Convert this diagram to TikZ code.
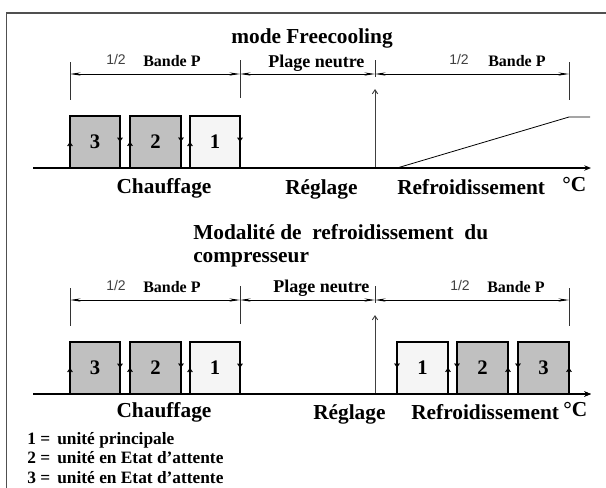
\documentclass[tikz,border=0pt]{standalone}
\usepackage{fontspec}
\setmainfont{Liberation Serif}
\newfontfamily\halffont{Liberation Sans}
\usetikzlibrary{decorations.markings}
\usetikzlibrary{arrows.meta}

\definecolor{unitgray}{RGB}{192,192,192}
\definecolor{unitlight}{RGB}{245,245,245}
\definecolor{framegray}{RGB}{80,80,80}

\begin{document}
\begin{tikzpicture}[x=0.75pt, y=-0.75pt,
		dimline/.style={line width=.6pt, {Stealth[length=8pt,width=2.4pt]}-{Stealth[length=8pt,width=2.4pt]}},
		dimtick/.style={line width=.7pt, black!80},
		tempaxis/.style={line width=1.3pt, -{Stealth[length=5pt,width=4pt]}},
		unitbox/.style={line width=.8pt, decoration={
				markings,
				mark=at position 0.17 with {\arrow{Straight Barb[length=2.5pt,width=3.5pt]}},
				mark=at position 0.83 with {\arrow{Straight Barb[length=2.5pt,width=3.5pt]}}},
			postaction={decorate}},
		biglbl/.style={font=\bfseries\fontsize{16}{18}\selectfont, inner sep=0pt},
		numlbl/.style={font=\bfseries\fontsize{15.5}{17}\selectfont, inner sep=0pt},
		bandlbl/.style={font=\bfseries\fontsize{12}{14}\selectfont, inner sep=0pt},
		halflbl/.style={font=\halffont\fontsize{10.5}{12}\selectfont, text=black!75, inner sep=0pt},
		legendlbl/.style={font=\bfseries\fontsize{13}{15}\selectfont, inner sep=0pt, anchor=base west}
	]
	\useasboundingbox (0,0) rectangle (606,487);
	% cadre
	\draw[framegray, line width=.8pt] (6.5,495) -- (6.5,13) -- (615,13);

	% les deux diagrammes
	\foreach \dy/\tag in {0/t, 226/b} {
		\node[shape=coordinate] (\tag dA) at (70,74+\dy) {};
		\node[shape=coordinate] (\tag dB) at (240,74+\dy) {};
		\node[shape=coordinate] (\tag dC) at (375,74+\dy) {};
		\node[shape=coordinate] (\tag dD) at (569,74+\dy) {};
		\draw[dimline] (\tag dA) -- (\tag dB);
		\draw[dimline] (\tag dB) -- (\tag dC);
		\draw[dimline] (\tag dC) -- (\tag dD);
		\draw[dimtick] (70,62+\dy) -- (70,100+\dy);
		\draw[dimtick] (240,60+\dy) -- (240,98+\dy);
		\draw[dimtick] (375,60+\dy) -- (375,77+\dy);
		\draw[dimtick] (569,62+\dy) -- (569,100+\dy);
		\node[shape=coordinate] (\tag ax0) at (33,168+\dy) {};
		\node[shape=coordinate] (\tag ax1) at (591,168+\dy) {};
		\node[shape=coordinate] (\tag set) at (375,168+\dy) {};
		\node[shape=coordinate] (\tag setup) at (375,89+\dy) {};
		\draw[black!75, line width=.7pt, -{Straight Barb[length=3pt,width=4pt]}] (\tag set) -- (\tag setup);
		\foreach \xl/\xr/\num/\col in {70/120/3/unitgray, 130/181/2/unitgray, 190/240/1/unitlight} {
			\filldraw[unitbox, fill=\col] (\xl,168+\dy) -- (\xl,116+\dy) -- (\xr,116+\dy) -- (\xr,168+\dy);
			\node[numlbl] (\tag h\num) at ({(\xl+\xr)/2},142+\dy) {\num};
		}
		\draw[tempaxis] (\tag ax0) -- (\tag ax1);
	}

	% rampe freecooling
	\node[shape=coordinate] (r0) at (397,168) {};
	\node[shape=coordinate] (r1) at (569,117) {};
	\node[shape=coordinate] (r2) at (590,117) {};
	\draw[line width=.6pt] (r0) -- (r1) -- (r2);

	% refroidissement compresseur
	\foreach \xl/\xr/\num/\col in {397/448/1/unitlight, 457/508/2/unitgray, 518/569/3/unitgray} {
		\filldraw[unitbox, fill=\col] (\xr,394) -- (\xr,342) -- (\xl,342) -- (\xl,394);
		\node[numlbl] (c\num) at ({(\xl+\xr)/2},368) {\num};
	}
	\draw[tempaxis] (bax0) -- (bax1);

	% textes haut
	\node[biglbl, anchor=base] (title1) at (312,43) {mode Freecooling};
	\node[halflbl, anchor=base west] (half1) at (106,64) {1/2};
	\node[bandlbl, anchor=base west] (band1) at (143,66) {Bande P};
	\node[bandlbl, font=\bfseries\fontsize{13.5}{15}\selectfont, anchor=base west] (plage1) at (268,67) {Plage neutre};
	\node[halflbl, anchor=base west] (half2) at (449,64) {1/2};
	\node[bandlbl, anchor=base west] (band2) at (488,66) {Bande P};
	\node[biglbl, anchor=base] (heat1) at (164,193) {Chauffage};
	\node[biglbl, anchor=base west] (reg1) at (285,194) {Réglage};
	\node[biglbl, anchor=base west] (cool1) at (397,194) {Refroidissement};
	\node[biglbl, anchor=base west] (deg1) at (562,191) {°C};

	% textes bas
	\node[biglbl, anchor=base west] (title2) at (193,239) {Modalité de\hspace{4pt} refroidissement\hspace{4pt} du};
	\node[biglbl, anchor=base west] (title3) at (193,262) {compresseur};
	\node[halflbl, anchor=base west] (half3) at (106,290) {1/2};
	\node[bandlbl, anchor=base west] (band3) at (143,292) {Bande P};
	\node[bandlbl, font=\bfseries\fontsize{13.5}{15}\selectfont, anchor=base west] (plage2) at (273,292) {Plage neutre};
	\node[halflbl, anchor=base west] (half4) at (450,290) {1/2};
	\node[bandlbl, anchor=base west] (band4) at (487,292) {Bande P};
	\node[biglbl, anchor=base] (heat2) at (164,417) {Chauffage};
	\node[biglbl, anchor=base west] (reg2) at (313,419) {Réglage};
	\node[biglbl, anchor=base west] (cool2) at (411,419) {Refroidissement};
	\node[biglbl, anchor=base west] (deg2) at (563,416) {°C};

	% legende
	\node[legendlbl] (leg1) at (27,444) {1 = \,unité principale};
	\node[legendlbl] (leg2) at (27,463) {2 = \,unité en Etat d’attente};
	\node[legendlbl] (leg3) at (27,483) {3 = \,unité en Etat d’attente};
\end{tikzpicture}
\end{document}
